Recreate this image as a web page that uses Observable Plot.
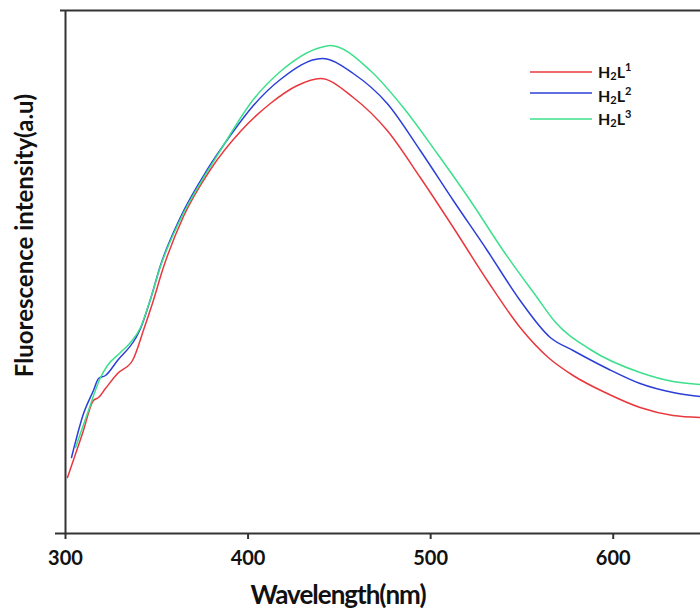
<!DOCTYPE html>
<html>
<head>
<meta charset="utf-8">
<script src="https://cdn.jsdelivr.net/npm/d3@7"></script>
<script src="https://cdn.jsdelivr.net/npm/@observablehq/plot@0.6"></script>
<style>
  html, body { margin: 0; padding: 0; background: #fff; }
  #chart svg { display: block; }
</style>
</head>
<body>
<div id="chart"></div>
<script>
// Series names
const seriesNames = ["H2L1", "H2L2", "H2L3"];
const seriesColors = ["#e8383d", "#2b3fd8", "#3ce08c"];

// H2L1 (red)
const wl1 = [301.1, 309.3, 315.3, 318.1, 321.9, 328.5, 336.7, 343.2, 347.6, 353.6, 364.6, 379.4, 395.8, 412.2, 427.0, 439.6, 457.6, 476.2, 494.3, 512.4, 531.0, 549.0, 564.4, 578.0, 596.7, 614.7, 632.8, 647.8];
const int1 = [56, 100, 133, 136, 145, 160, 173, 206, 230, 266, 317, 364, 402, 430, 448, 455, 436, 403, 356, 306, 253, 206, 176, 158, 140, 126, 118, 116];

// H2L2 (blue)
const wl2 = [303.3, 309.9, 315.3, 318.1, 321.9, 328.5, 338.3, 341.1, 346.5, 352.0, 362.9, 377.7, 390.3, 402.9, 417.7, 440.7, 457.6, 476.2, 494.3, 512.4, 531.0, 549.0, 565.5, 578.0, 596.7, 614.7, 632.8, 647.8];
const int2 = [76, 120, 143, 155, 158, 173, 195, 205, 234, 268, 316, 364, 398, 428, 454, 475, 460, 430, 383, 333, 283, 233, 196, 183, 165, 150, 141, 137];

// H2L3 (green)
const wl3 = [305.5, 312.0, 319.2, 323.0, 330.1, 335.6, 341.1, 346.5, 352.0, 362.9, 377.7, 384.8, 402.9, 417.7, 439.6, 445.0, 466.9, 485.0, 503.6, 521.7, 539.7, 558.3, 568.0, 587.4, 614.7, 632.8, 647.8];
const int3 = [86, 120, 156, 168, 181, 191, 206, 234, 267, 314, 362, 383, 434, 462, 486, 488, 463, 426, 380, 333, 283, 236, 212, 184, 161, 152, 149];

const xTicks = [300, 400, 500, 600];
const xDomain = [300, 647.8];
const yDomain = [0, 523];

const rows = [];
[[wl1, int1], [wl2, int2], [wl3, int3]].forEach(([w, v], k) => {
  w.forEach((x, i) => rows.push({series: seriesNames[k], wl: x, val: v[i]}));
});

const axisColor = "#333";
const font = "Lato";

const chart = Plot.plot({
  width: 700,
  height: 614,
  marginLeft: 65,
  marginRight: 0,
  marginTop: 10,
  marginBottom: 81,
  style: {fontFamily: font, background: "#fff", overflow: "visible"},
  x: {domain: xDomain},
  y: {domain: yDomain},
  color: {domain: seriesNames, range: seriesColors},
  marks: [
    Plot.line(rows, {x: "wl", y: "val", z: "series", stroke: "series", strokeWidth: 1.5, curve: "monotone-x"}),
    Plot.ruleX([xDomain[0]], {stroke: axisColor, strokeWidth: 2}),
    Plot.ruleY([yDomain[0]], {stroke: axisColor, strokeWidth: 2}),
    Plot.ruleY([yDomain[1]], {stroke: axisColor, strokeWidth: 2}),
    Plot.axisY({ticks: [yDomain[0]], tickSize: 10, tickFormat: () => "", stroke: axisColor, strokeWidth: 2, label: null}),
    Plot.axisY({ticks: [yDomain[1]], tickSize: 5, tickFormat: () => "", stroke: axisColor, strokeWidth: 2, label: null}),
    Plot.axisX({ticks: xTicks, tickSize: 6, tickPadding: 11, tickFormat: d => String(d), stroke: axisColor, strokeWidth: 2, fill: "#111", fontSize: 20, fontWeight: "bold", label: null}),
    Plot.text(["Wavelength(nm)"], {frameAnchor: "bottom", textAnchor: "middle", lineAnchor: "middle", dx: -45, dy: 62, fontSize: 26, fontWeight: "bold", fill: "#111"}),
    Plot.text(["Fluorescence intensity(a.u)"], {frameAnchor: "left", textAnchor: "middle", lineAnchor: "middle", rotate: -90, dx: -40, dy: -36.5, fontSize: 24, fontWeight: "bold", fill: "#111"})
  ]
});

document.getElementById("chart").appendChild(chart);

// letter spacing for the x title to mimic the condensed original font
d3.select(chart).selectAll("text").filter(function() { return this.textContent === "Wavelength(nm)"; })
  .attr("letter-spacing", -1);

// Legend
const svg = d3.select(chart);
const legendItems = [
  {base: "H", sub: "2", mid: "L", sup: "1", color: seriesColors[0], ly: 72, ty: 78},
  {base: "H", sub: "2", mid: "L", sup: "2", color: seriesColors[1], ly: 93, ty: 102},
  {base: "H", sub: "2", mid: "L", sup: "3", color: seriesColors[2], ly: 119, ty: 125}
];
const lg = svg.append("g").attr("font-family", font).attr("font-weight", "bold").attr("fill", "#111").attr("text-anchor", "start");
legendItems.forEach(it => {
  lg.append("line").attr("x1", 530).attr("x2", 592).attr("y1", it.ly).attr("y2", it.ly)
    .attr("stroke", it.color).attr("stroke-width", 1.5);
  const t = lg.append("text").attr("x", 598).attr("y", it.ty).attr("font-size", 16);
  t.append("tspan").text(it.base);
  t.append("tspan").attr("font-size", 11).attr("dy", 2).text(it.sub);
  t.append("tspan").attr("dy", -2).text(it.mid);
  t.append("tspan").attr("font-size", 11).attr("dy", -7).text(it.sup);
});
</script>
</body>
</html>
